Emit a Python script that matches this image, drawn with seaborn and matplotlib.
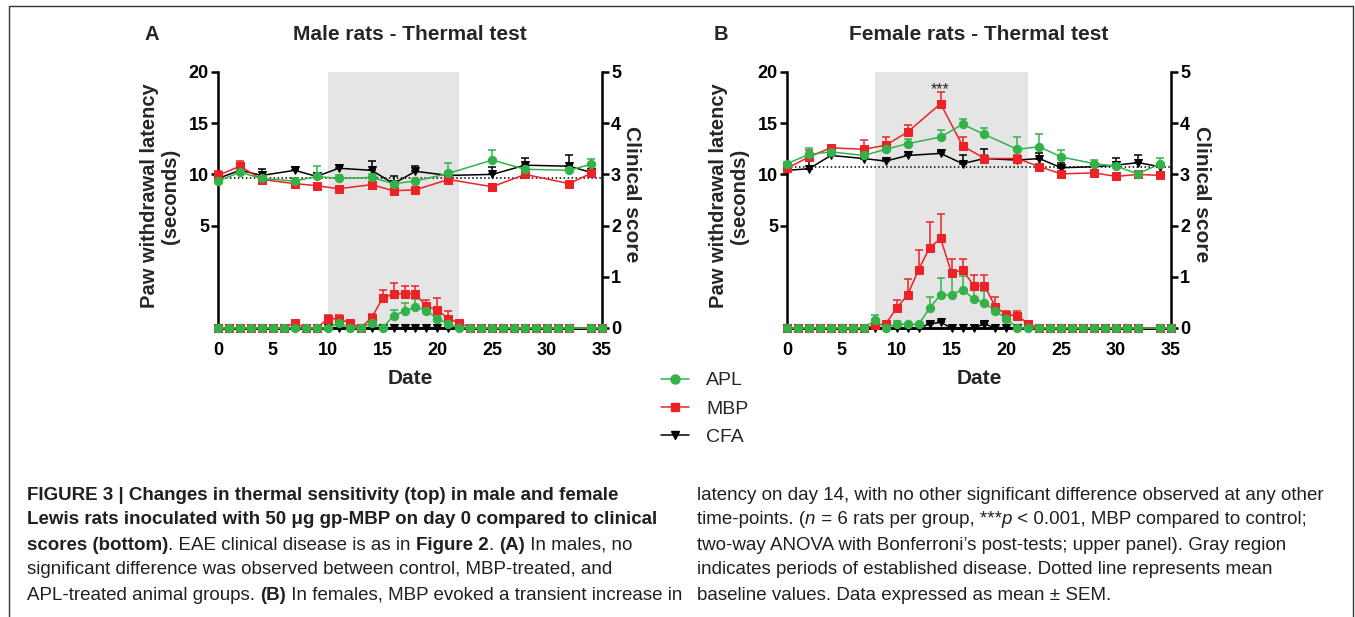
# Thermal test vs clinical score, male and female rats (figure 3 recreation)
import numpy as np
import pandas as pd
import seaborn as sns
import matplotlib.pyplot as plt
from matplotlib.lines import Line2D

# ---- data ----
male_days = [0, 2, 4, 7, 9, 11, 14, 16, 18, 21, 25, 28, 32, 34]
female_days = [0, 2, 4, 7, 9, 11, 14, 16, 18, 21, 23, 25, 28, 30, 32, 34]
score_days = [0, 1, 2, 3, 4, 5, 6, 7, 8, 9,
              10, 11, 12, 13, 14, 15, 16, 17, 18, 19,
              20, 21, 22, 23, 24, 25, 26, 27, 28, 29,
              30, 31, 32, 34, 35]

# paw withdrawal latency (seconds), male
male_apl = [9.35, 10.2, 9.6, 9.35, 9.8, 9.6, 9.7, 9.1, 9.35, 10.1, 11.4, 10.5, 10.4, 11.0]
male_apl_err = [0.2, 0.2, 0.2, 0.3, 1.0, 0.3, 0.3, 0.2, 0.2, 1.0, 1.0, 0.5, 0.2, 0.55]
male_mbp = [9.9, 10.8, 9.5, 9.1, 8.9, 8.6, 9.0, 8.4, 8.5, 9.5, 8.8, 10.0, 9.1, 10.1]
male_mbp_err = [0.4, 0.5, 0.2, 0.5, 0.3, 0.2, 0.3, 0.2, 0.2, 0.3, 0.3, 0.4, 0.2, 0.3]
male_cfa = [9.6, 10.4, 9.9, 10.4, 9.8, 10.6, 10.4, 9.1, 10.3, 9.9, 10.0, 10.9, 10.8, 10.2]
male_cfa_err = [0.2, 0.2, 0.6, 0.3, 0.3, 0.3, 0.9, 0.7, 0.55, 0.2, 0.75, 0.75, 1.05, 0.2]

# paw withdrawal latency (seconds), female
female_apl = [11.05, 11.95, 12.2, 11.85, 12.45, 13.0, 13.65, 14.9, 13.9, 12.45,
              12.7, 11.7, 11.05, 10.8, 10.05, 11.05]
female_apl_err = [0.2, 0.65, 0.3, 0.3, 0.3, 0.5, 0.65, 0.55, 0.65, 1.2,
                  1.2, 0.65, 0.4, 0.2, 0.2, 0.55]
female_mbp = [10.6, 11.7, 12.6, 12.45, 12.85, 14.15, 16.9, 12.8, 11.55, 11.55,
              10.75, 10.05, 10.15, 9.8, 10.0, 9.9]
female_mbp_err = [0.2, 0.65, 0.2, 0.9, 0.85, 0.7, 1.1, 0.9, 0.3, 0.3,
                  0.3, 0.2, 0.2, 0.2, 0.2, 0.3]
female_cfa = [10.4, 10.55, 11.85, 11.55, 11.3, 11.85, 12.05, 11.05, 11.55, 11.4,
              11.55, 10.65, 10.75, 10.9, 11.15, 10.75]
female_cfa_err = [0.2, 0.8, 0.2, 0.2, 0.2, 0.3, 0.2, 0.85, 0.9, 0.3,
                  0.5, 0.5, 0.3, 0.75, 0.75, 0.2]

baseline = [9.6, 10.7]

# clinical score, male
male_apl_score = [0, 0, 0, 0, 0, 0, 0, 0, 0, 0,
                  0, 0.1, 0, 0, 0.1, 0, 0.24, 0.33, 0.41, 0.34,
                  0.18, 0.08, 0, 0, 0, 0, 0, 0, 0, 0,
                  0, 0, 0, 0, 0]
male_apl_score_err = [0, 0, 0, 0, 0, 0, 0, 0, 0, 0,
                      0, 0.03, 0, 0, 0.03, 0, 0.12, 0.16, 0.16, 0.15,
                      0.05, 0, 0, 0, 0, 0, 0, 0, 0, 0,
                      0, 0, 0, 0, 0]
male_mbp_score = [0, 0, 0, 0, 0, 0, 0, 0.1, 0, 0,
                  0.18, 0.18, 0.1, 0, 0.2, 0.58, 0.67, 0.67, 0.67, 0.42,
                  0.35, 0.18, 0.1, 0, 0, 0, 0, 0, 0, 0,
                  0, 0, 0, 0, 0]
male_mbp_score_err = [0, 0, 0, 0, 0, 0, 0, 0.05, 0, 0,
                      0.08, 0.08, 0.05, 0, 0.07, 0.16, 0.2, 0.16, 0.16, 0.13,
                      0.23, 0.15, 0, 0, 0, 0, 0, 0, 0, 0,
                      0, 0, 0, 0, 0]
male_cfa_score = [0, 0, 0, 0, 0, 0, 0, 0, 0, 0,
                  0, 0, 0, 0, 0, 0, 0, 0, 0, 0,
                  0, 0, 0, 0, 0, 0, 0, 0, 0, 0,
                  0, 0, 0, 0, 0]
male_cfa_score_err = male_cfa_score

# clinical score, female
female_apl_score = [0, 0, 0, 0, 0, 0, 0, 0, 0.15, 0,
                    0.08, 0.07, 0.07, 0.39, 0.65, 0.65, 0.75, 0.57, 0.49, 0.33,
                    0.18, 0, 0, 0, 0, 0, 0, 0, 0, 0,
                    0, 0, 0, 0, 0]
female_apl_score_err = [0, 0, 0, 0, 0, 0, 0, 0, 0.11, 0,
                        0.05, 0, 0, 0.21, 0.33, 0.41, 0.26, 0.25, 0.23, 0.11,
                        0.08, 0, 0, 0, 0, 0, 0, 0, 0, 0,
                        0, 0, 0, 0, 0]
female_mbp_score = [0, 0, 0, 0, 0, 0, 0, 0, 0.05, 0.08,
                    0.39, 0.65, 1.14, 1.57, 1.75, 1.07, 1.14, 0.83, 0.83, 0.41,
                    0.26, 0.24, 0.08, 0, 0, 0, 0, 0, 0, 0,
                    0, 0, 0, 0, 0]
female_mbp_score_err = [0, 0, 0, 0, 0, 0, 0, 0, 0.03, 0,
                        0.15, 0.3, 0.39, 0.5, 0.48, 0.27, 0.21, 0.2, 0.2, 0.19,
                        0.08, 0.1, 0, 0, 0, 0, 0, 0, 0, 0,
                        0, 0, 0, 0, 0]
female_cfa_score = [0, 0, 0, 0, 0, 0, 0, 0, 0, 0,
                    0, 0, 0, 0.08, 0.11, 0, 0, 0, 0.08, 0,
                    0, 0, 0, 0, 0, 0, 0, 0, 0, 0,
                    0, 0, 0, 0, 0]
female_cfa_score_err = [0, 0, 0, 0, 0, 0, 0, 0, 0, 0,
                        0, 0, 0, 0.03, 0.03, 0, 0, 0, 0.03, 0,
                        0, 0, 0, 0, 0, 0, 0, 0, 0, 0,
                        0, 0, 0, 0, 0]

groups = ["APL", "MBP", "CFA"]
colors = {"APL": "#34b24a", "MBP": "#ec2227", "CFA": "#000000"}
markers = {"APL": "o", "MBP": "s", "CFA": "v"}
msizes = {"APL": 6, "MBP": 5.5, "CFA": 5.5}

# ---- style ----
sns.set_theme(style="ticks")
plt.rcParams['font.family'] = ['Liberation Sans', 'DejaVu Sans']
cap_font = ['Liberation Sans Narrow', 'Liberation Sans', 'DejaVu Sans']

fig = plt.figure(figsize=(13.55, 6.17), dpi=100)
W, H = 1355, 617


def fx(px):
    return px / W


def fy(py):
    return 1 - py / H


def draw_series(ax, days, vals, errs, g):
    c = colors[g]
    low = np.zeros(len(vals))
    ax.errorbar(days, vals, yerr=[low, errs], fmt='none', ecolor=c,
                elinewidth=1.1, capsize=2.6, capthick=1.1, clip_on=False, zorder=3)
    sns.lineplot(x=days, y=vals, ax=ax, color=c, marker=markers[g],
                 markersize=msizes[g], markeredgecolor=c, linewidth=1.1,
                 clip_on=False, zorder=4, legend=False)


def panel(left_px, shade, lat, scores, base, title, letter):
    ax = fig.add_axes([fx(left_px), fy(328), fx(384), 256 / H])
    ax2 = ax.twinx()
    ax.axvspan(shade[0], shade[1], color='#e5e5e5', lw=0, zorder=0)
    ax.plot([0, 35], [base, base], ls=(0, (1, 1.6)), color='black', lw=1.1, zorder=2)
    for g in ["CFA", "MBP", "APL"]:
        days, vals, errs = lat[g]
        draw_series(ax, days, vals, errs, g)
        sv, se = scores[g]
        draw_series(ax2, score_days, sv, se, g)

    ax.set_xlim(0, 35)
    ax.set_ylim(-5, 20)
    ax2.set_ylim(0, 5)
    ax.set_yticks([5, 10, 15, 20])
    ax2.set_yticks([0, 1, 2, 3, 4, 5])
    ax.set_xticks([0, 5, 10, 15, 20, 25, 30, 35])
    for a in (ax, ax2):
        a.set_xlabel("")
        a.set_ylabel("")
        a.spines['top'].set_visible(False)
        for s in ['left', 'right', 'bottom']:
            a.spines[s].set_linewidth(1.8)
            a.spines[s].set_color('black')
        a.tick_params(axis='y', length=5, width=1.8, pad=1.5, labelsize=13, colors='black')
        a.tick_params(axis='x', length=0, pad=10, labelsize=13, colors='black')
        for lab in a.get_xticklabels() + a.get_yticklabels():
            lab.set_fontweight('bold')
    ax2.spines['left'].set_visible(False)
    ax.spines['right'].set_visible(False)
    ax.patch.set_visible(False)

    cx = left_px + 192
    fig.text(fx(cx), fy(35), title, ha='center', va='center', fontsize=15, fontweight='bold')
    fig.text(fx(left_px - 66), fy(35), letter, ha='center', va='center', fontsize=14.5, fontweight='bold')
    fig.text(fx(cx), fy(378), "Date", ha='center', va='center', fontsize=15, fontweight='bold')
    fig.text(fx(left_px - 58), fy(196), "Paw withdrawal latency\n(seconds)", rotation=90,
             ha='center', va='center', fontsize=14.5, fontweight='bold', multialignment='center',
             linespacing=1.1)
    fig.text(fx(left_px + 414), fy(194), "Clinical score", rotation=270,
             ha='center', va='center', fontsize=15, fontweight='bold')
    return ax, ax2


male_lat = {"APL": (male_days, male_apl, male_apl_err),
            "MBP": (male_days, male_mbp, male_mbp_err),
            "CFA": (male_days, male_cfa, male_cfa_err)}
male_scores = {"APL": (male_apl_score, male_apl_score_err),
               "MBP": (male_mbp_score, male_mbp_score_err),
               "CFA": (male_cfa_score, male_cfa_score_err)}
female_lat = {"APL": (female_days, female_apl, female_apl_err),
              "MBP": (female_days, female_mbp, female_mbp_err),
              "CFA": (female_days, female_cfa, female_cfa_err)}
female_scores = {"APL": (female_apl_score, female_apl_score_err),
                 "MBP": (female_mbp_score, female_mbp_score_err),
                 "CFA": (female_cfa_score, female_cfa_score_err)}

axA, _ = panel(218, (10, 22), male_lat, male_scores, baseline[0], "Male rats - Thermal test", "A")
axB, _ = panel(787, (8, 22), female_lat, female_scores, baseline[1], "Female rats - Thermal test", "B")

# significance mark over MBP day 14
i14 = female_days.index(14)
axB.text(14, female_mbp[i14] + female_mbp_err[i14] + 0.3, "***", ha='center', va='center', fontsize=11.5)

# legend
handles = [Line2D([0], [0], color=colors[g], marker=markers[g], markersize=msizes[g] + 0.5,
                  markeredgecolor=colors[g], lw=1.1) for g in groups]
fig.legend(handles, groups, loc='upper left', bbox_to_anchor=(fx(651), fy(362)),
           frameon=False, fontsize=14, handlelength=1.45, handletextpad=0.9,
           labelspacing=0.55, borderpad=0)

# frame around the figure
fig.add_artist(Line2D([fx(9), fx(9), fx(1353), fx(1353)], [0, fy(6), fy(6), 0],
                      color='#333333', lw=1.0))

# caption, drawn run by run so bold/italic parts can mix on a line
renderer = fig.canvas.get_renderer()


def draw_runs(x_px, y_px, runs, size=13.5):
    x = fx(x_px)
    for txt, st in runs:
        t = fig.text(x, fy(y_px), txt, fontsize=size, family=cap_font,
                     fontweight='bold' if 'b' in st else 'normal',
                     fontstyle='italic' if 'i' in st else 'normal',
                     ha='left', va='center', color='#231f20')
        x += t.get_window_extent(renderer=renderer).width / fig.bbox.width


left_lines = [
    [("FIGURE 3 | Changes in thermal sensitivity (top) in male and female", "b")],
    [("Lewis rats inoculated with 50 \u03bcg gp-MBP on day 0 compared to clinical", "b")],
    [("scores (bottom)", "b"), (". EAE clinical disease is as in ", ""), ("Figure 2", "b"),
     (". ", ""), ("(A)", "b"), (" In males, no", "")],
    [("significant difference was observed between control, MBP-treated, and", "")],
    [("APL-treated animal groups. ", ""), ("(B)", "b"),
     (" In females, MBP evoked a transient increase in", "")],
]
right_lines = [
    [("latency on day 14, with no other significant difference observed at any other", "")],
    [("time-points. (", ""), ("n", "i"), (" = 6 rats per group, ***", ""), ("p", "i"),
     (" < 0.001, MBP compared to control;", "")],
    [("two-way ANOVA with Bonferroni\u2019s post-tests; upper panel). Gray region", "")],
    [("indicates periods of established disease. Dotted line represents mean", "")],
    [("baseline values. Data expressed as mean \u00b1 SEM.", "")],
]
for k, line in enumerate(left_lines):
    draw_runs(27, 495 + 25 * k, line)
for k, line in enumerate(right_lines):
    draw_runs(697, 495 + 25 * k, line)

fig.savefig("out.png", dpi=100)
